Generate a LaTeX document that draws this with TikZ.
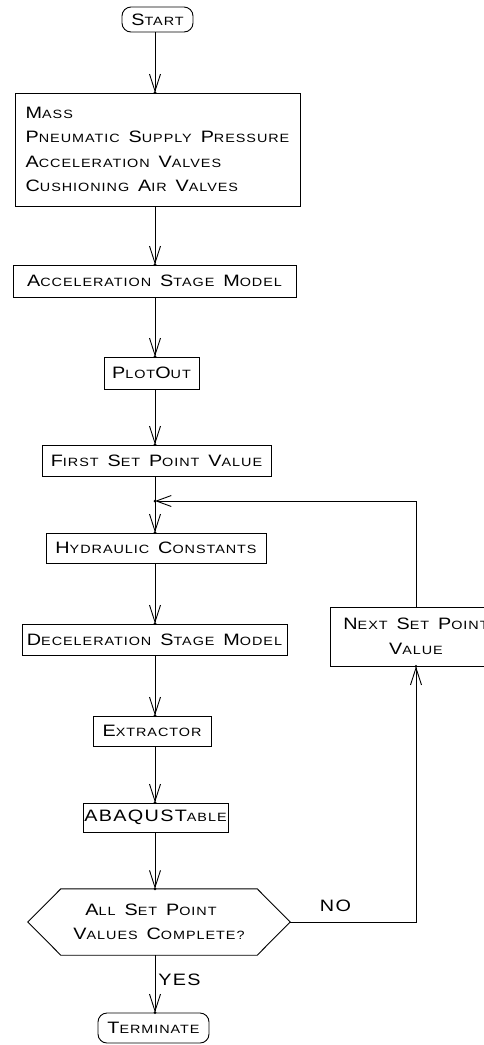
\documentclass[tikz,border=0pt]{standalone}
\usepackage{fontspec}
\newfontfamily\cadfont[FakeStretch=1.2,LetterSpace=8,WordSpace=1.8]{Liberation Sans}
\usetikzlibrary{arrows.meta}
\newcommand\BC[1]{{\fontsize{16.5}{24.5}\selectfont #1}}
\newcommand\cadtext{\cadfont\fontsize{12}{24.5}\selectfont}
\tikzset{
  txt/.style={inner sep=0pt, font=\cadtext},
  box/.style={txt, draw, line width=0.9pt},
  term/.style={box, rounded corners=9pt},
  conn/.style={line width=0.9pt},
  arr/.style={conn, -{Straight Barb[length=17pt,width=11pt]}},
}
\begin{document}
\begin{tikzpicture}[x=1pt,y=-1pt]
\useasboundingbox (0,0) rectangle (483,1045);
\coordinate (col) at (155,0);
\node[term, minimum width=71pt, minimum height=25pt] (start) at (157.5,19.5) {\BC{S}TART};
\node[box, minimum width=285pt, minimum height=113pt, align=left] (inp) at (157.5,149.5)
  {\BC{M}ASS\\\BC{P}NEUMATIC \BC{S}UPPLY \BC{P}RESSURE\\\BC{A}CCELERATION \BC{V}ALVES\\\BC{C}USHIONING \BC{A}IR \BC{V}ALVES};
\node[box, minimum width=283pt, minimum height=32pt] (acc) at (154.5,281) {\BC{A}CCELERATION \BC{S}TAGE \BC{M}ODEL};
\node[box, minimum width=95pt, minimum height=32pt] (plot) at (151.5,373) {\BC{P}LOT\BC{O}UT};
\node[box, minimum width=229pt, minimum height=31pt] (first) at (156.5,460.5) {\BC{F}IRST \BC{S}ET \BC{P}OINT \BC{V}ALUE};
\coordinate (join) at (155,501);
\node[box, minimum width=220pt, minimum height=30pt] (hyd) at (156,548) {\BC{H}YDRAULIC \BC{C}ONSTANTS};
\node[box, minimum width=265pt, minimum height=31pt] (dec) at (154.5,639.5) {\BC{D}ECELERATION \BC{S}TAGE \BC{M}ODEL};
\node[box, minimum width=172pt, minimum height=59pt, align=center] (next) at (416,636.5) {\BC{N}EXT \BC{S}ET \BC{P}OINT\\\BC{V}ALUE};
\node[box, minimum width=118pt, minimum height=30pt] (ext) at (152,731) {\BC{E}XTRACTOR};
\node[box, minimum width=145pt, minimum height=29pt] (abq) at (155.5,817.5) {\BC{ABAQUST}ABLE};
\node[txt, minimum width=262pt, minimum height=66pt, align=center] (chk) at (159,922)
  {\BC{A}LL \BC{S}ET \BC{P}OINT\hspace*{16pt}\\\BC{V}ALUES \BC{C}OMPLETE?};
\draw[conn] (chk.west) -- ([xshift=33pt]chk.north west) -- ([xshift=-33pt]chk.north east) -- (chk.east)
  -- ([xshift=-33pt]chk.south east) -- ([xshift=33pt]chk.south west) -- cycle;
\node[term, minimum width=111pt, minimum height=30pt] (end) at (153.5,1028) {\BC{T}ERMINATE};
\node[txt] (no) at (335.5,906) {\BC{NO}};
\node[txt] (yes) at (179.5,980) {\BC{YES}};
% connectors
\draw[arr] (start.south -| col) -- (inp.north -| col);
\draw[arr] (inp.south -| col) -- (acc.north -| col);
\draw[arr] (acc.south -| col) -- (plot.north -| col);
\draw[arr] (plot.south -| col) -- (first.north -| col);
\draw[arr] (first.south -| col) -- (hyd.north -| col);
\draw[arr] (hyd.south -| col) -- (dec.north -| col);
\draw[arr] (dec.south -| col) -- (ext.north -| col);
\draw[arr] (ext.south -| col) -- (abq.north -| col);
\draw[arr] (abq.south -| col) -- (chk.north -| col);
\draw[arr] (chk.south -| col) -- (end.north -| col);
\draw[arr, -{Straight Barb[length=15pt,width=11pt]}] (next.north) |- (join);
\draw[arr] (chk.east) -| (next.south);
\foreach \p in {inp.north -| col, acc.north -| col, plot.north -| col, first.north -| col, hyd.north -| col,
  dec.north -| col, ext.north -| col, abq.north -| col, chk.north -| col, end.north -| col, join, next.south}
  \fill (\p) circle (1.5pt);
\end{tikzpicture}
\end{document}
